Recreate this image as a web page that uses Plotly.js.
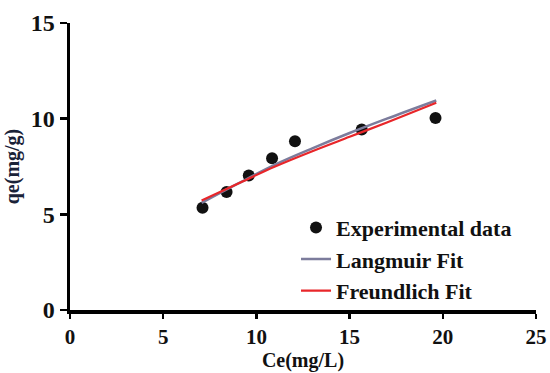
<!DOCTYPE html>
<html>
<head>
<meta charset="utf-8">
<script src="https://cdn.plot.ly/plotly-3.0.1.min.js"></script>
<style>html,body{margin:0;padding:0;background:#fff;}#chart{width:550px;height:373px;}</style>
</head>
<body>
<div id="chart"></div>
<script>
// Experimental data
var ceExp = [7.11, 8.4, 9.59, 10.84, 12.07, 15.65, 19.61];
var qeExp = [5.34, 6.17, 7.03, 7.93, 8.82, 9.43, 10.04];
// Fit curves
var ceFit = [7.06, 9, 11, 13, 15, 17, 19.65];
var qeLangmuir = [5.6, 6.6, 7.6, 8.45, 9.25, 10.0, 10.95];
var qeFreundlich = [5.72, 6.6, 7.5, 8.3, 9.05, 9.8, 10.83];
var xTicks = [0, 5, 10, 15, 20, 25];
var yTicks = [0, 5, 10, 15];

var fontFam = '"Liberation Serif", "Times New Roman", serif';

var traces = [
  {x: ceExp, y: qeExp, mode: 'markers', name: '<b>Experimental data</b>',
   marker: {color: '#111', size: 12}},
  {x: ceFit, y: qeLangmuir, mode: 'lines', name: '<b>Langmuir Fit</b>', line: {color: '#7c7c9c', width: 2.5, shape: 'spline'}},
  {x: ceFit, y: qeFreundlich, mode: 'lines', name: '<b>Freundlich Fit</b>', line: {color: '#e8262a', width: 2.2, shape: 'spline'}}
];

var layout = {
  width: 550, height: 373,
  margin: {l: 70, r: 14, t: 23, b: 63},
  paper_bgcolor: '#fff', plot_bgcolor: '#fff',
  font: {family: fontFam, color: '#111', size: 22},
  showlegend: true,
  legend: {x: 0.485, y: 0.36, xanchor: 'left', yanchor: 'top', bgcolor: 'rgba(0,0,0,0)',
           font: {family: fontFam, size: 22, color: '#111'}, tracegroupgap: 0, itemwidth: 30},
  xaxis: {
    range: [0, 25], tickvals: xTicks, ticktext: xTicks.map(function(v){return '<b>'+v+'</b>';}),
    showgrid: false, zeroline: false, showline: true, linecolor: '#000', linewidth: 3.5,
    ticks: 'outside', ticklen: 5, tickwidth: 2.5, tickcolor: '#000',
    tickfont: {family: fontFam, size: 21, color: '#111'},
    title: {text: '<b>Ce(mg/L)</b>', font: {family: fontFam, size: 20, color: '#111'}, standoff: 0}
  },
  yaxis: {
    range: [0, 15], tickvals: yTicks, ticktext: yTicks.map(function(v){return '<b>'+v+'</b>';}),
    showgrid: false, zeroline: false, showline: true, linecolor: '#000', linewidth: 3.5,
    ticks: 'outside', ticklen: 7, tickwidth: 2.5, tickcolor: '#000', ticklabelstandoff: 0,
    tickfont: {family: fontFam, size: 24, color: '#111'},
    title: {text: '<b>qe(mg/g)</b>', font: {family: fontFam, size: 20, color: '#1a2238'}, standoff: 6}
  }
};

Plotly.newPlot('chart', traces, layout, {displayModeBar: false, staticPlot: true});
</script>
</body>
</html>
